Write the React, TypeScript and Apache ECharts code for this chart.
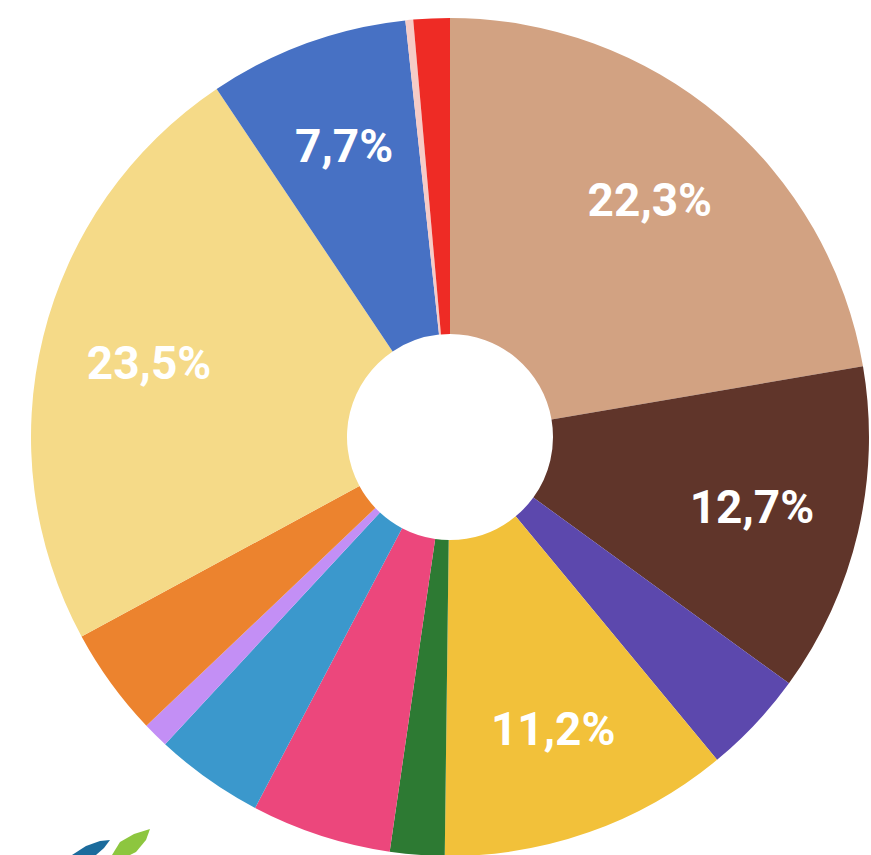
import React, { useEffect, useRef } from "react";
import * as echarts from "echarts";

const categories = [
  "Tan", "Dark brown", "Purple", "Yellow", "Green", "Pink", "Blue", "Lavender",
  "Orange", "Light yellow", "Royal blue", "Pale pink", "Red",
];
const values = [22.3, 12.7, 4.0, 11.2, 2.1, 5.4, 4.2, 1.0, 4.2, 23.5, 7.7, 0.3, 1.4];
const colors = [
  "#d2a282", "#60352a", "#5c48ad", "#f2c13a", "#2d7a33", "#ec477c", "#3b98cc", "#c38ff5",
  "#ec832e", "#f5da88", "#4771c4", "#f6cbc6", "#ee2b25",
];
const labelThreshold = 7;

const fmt = (v: number) => `${v.toFixed(1).replace(".", ",")}%`;

export default function App() {
  const ref = useRef<HTMLDivElement>(null);
  useEffect(() => {
    if (!ref.current) return;
    const chart = echarts.init(ref.current, undefined, { renderer: "svg" });
    const baseData = categories.map((name, i) => ({
      name,
      value: values[i],
      itemStyle: { color: colors[i] },
    }));
    const labelData = categories.map((name, i) => ({
      name,
      value: values[i],
      label: { show: values[i] >= labelThreshold },
    }));
    chart.setOption({
      animation: false,
      backgroundColor: "#ffffff",
      graphic: [
        {
          type: "polygon",
          shape: { points: [[72, 855], [86, 846], [100, 841], [110, 840], [104, 848], [96, 855]] },
          style: { fill: "#1b6b9c" },
        },
        {
          type: "polygon",
          shape: { points: [[112, 855], [120, 842], [134, 834], [150, 829], [146, 840], [136, 852], [130, 855]] },
          style: { fill: "#8dc63f" },
        },
      ],
      series: [
        {
          type: "pie",
          center: [450, 437],
          radius: [103, 419],
          startAngle: 90,
          clockwise: true,
          avoidLabelOverlap: false,
          silent: true,
          label: { show: false },
          labelLine: { show: false },
          itemStyle: { borderWidth: 0 },
          emphasis: { disabled: true },
          data: baseData,
        },
        {
          type: "pie",
          center: [450, 437],
          radius: [195, 419],
          startAngle: 90,
          clockwise: true,
          avoidLabelOverlap: false,
          silent: true,
          itemStyle: { color: "rgba(0,0,0,0)", borderWidth: 0 },
          labelLine: { show: false },
          emphasis: { disabled: true },
          label: {
            position: "inside",
            color: "#ffffff",
            fontFamily: "Roboto",
            fontWeight: "bold",
            fontSize: 46,
            textBorderWidth: 0,
            formatter: (p: any) => fmt(p.value),
          },
          data: labelData,
        },
      ],
    });
    return () => chart.dispose();
  }, []);
  return (
    <div
      ref={ref}
      style={{ position: "fixed", left: 0, top: 0, width: 871, height: 855 }}
    />
  );
}
